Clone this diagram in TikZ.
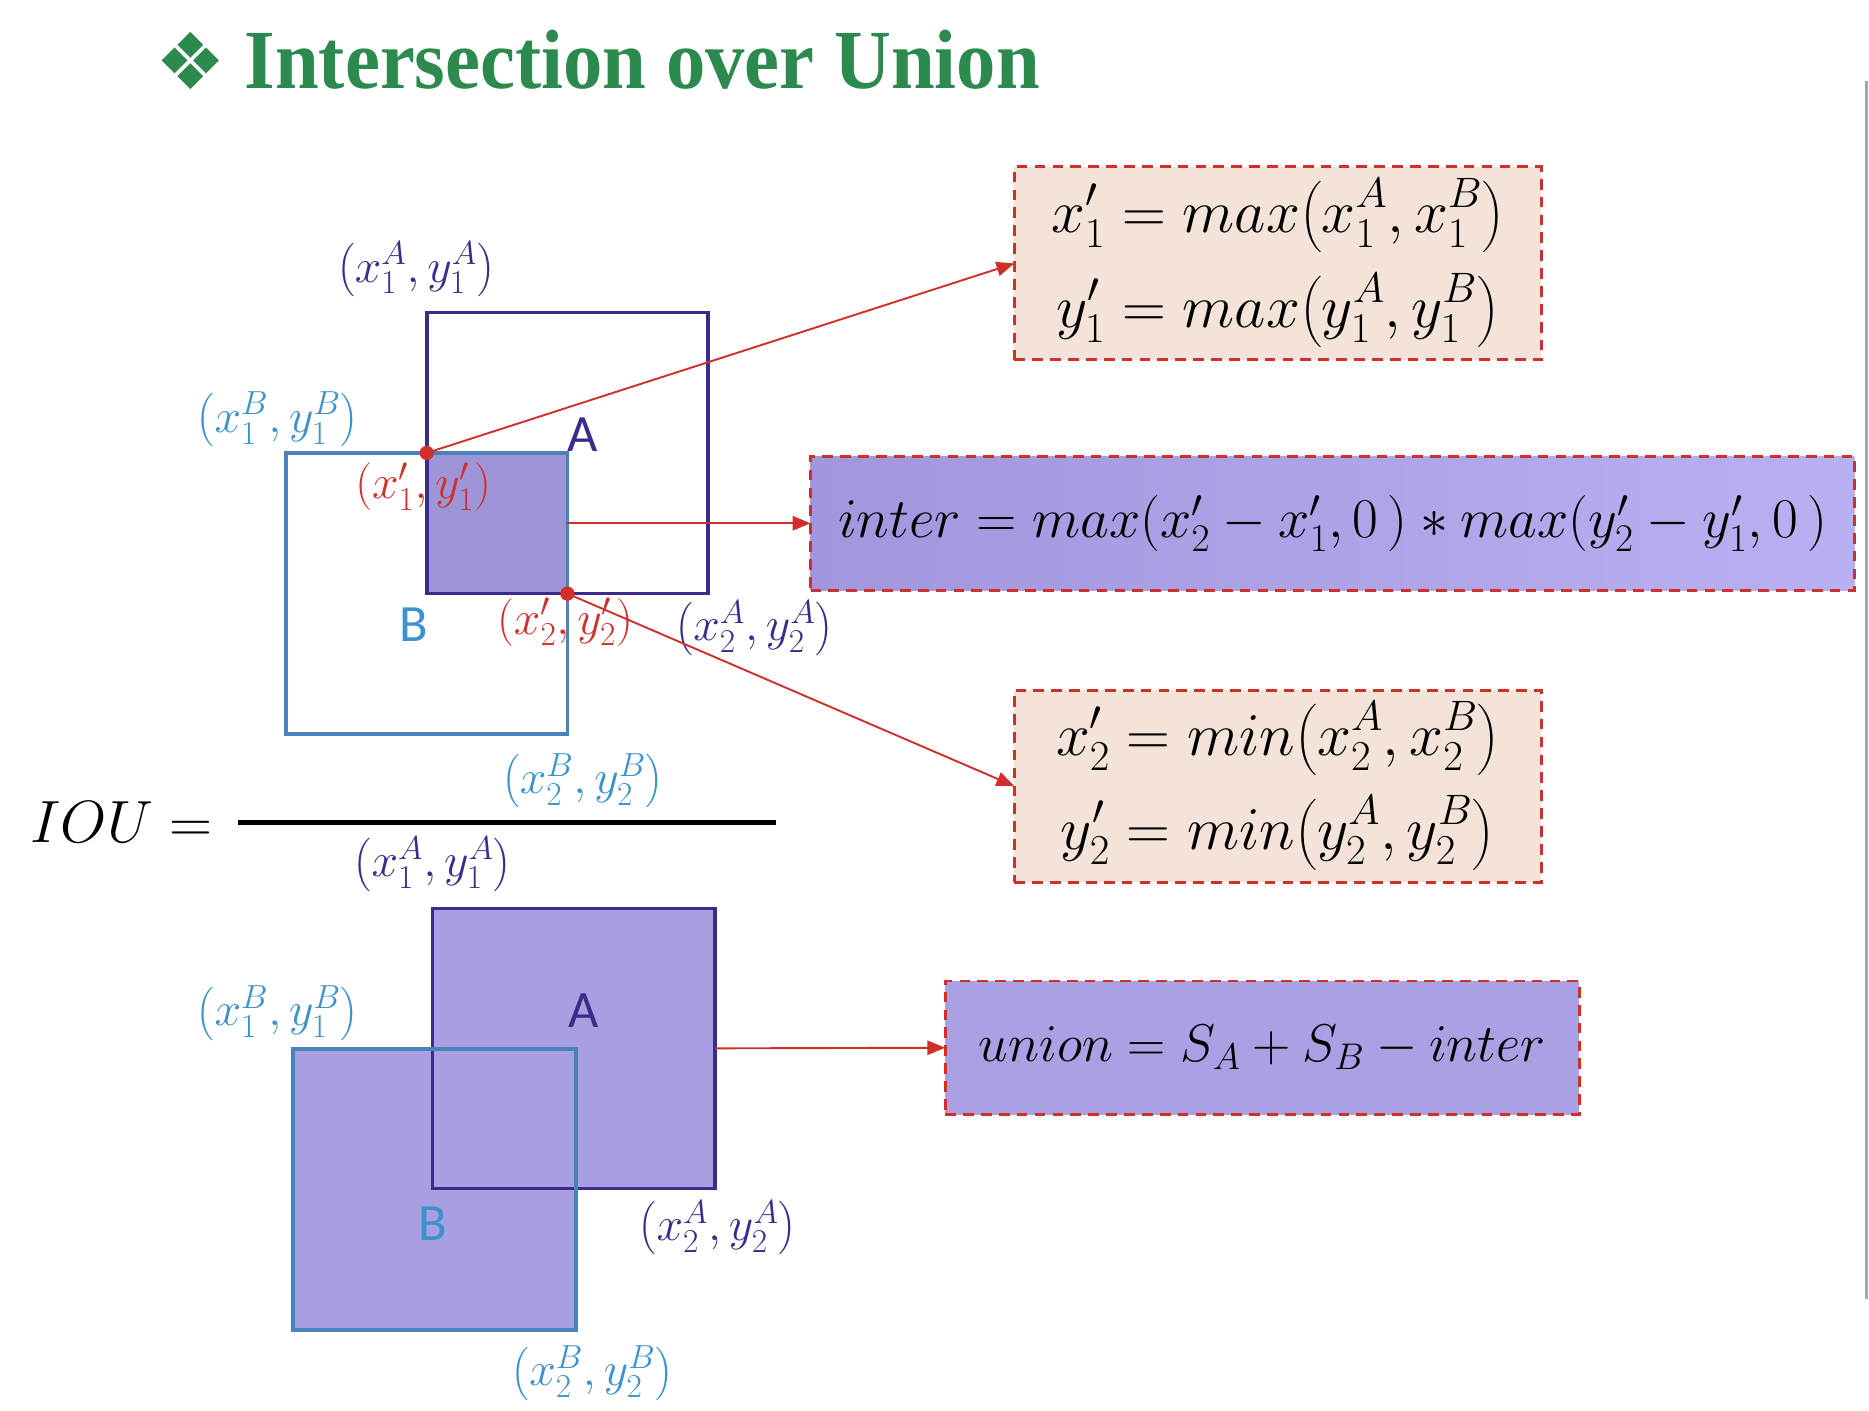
\RequirePackage{fix-cm}
\documentclass[tikz,border=0pt]{standalone}
\usepackage{amsmath}
\usepackage{fontspec}
\usetikzlibrary{arrows.meta}
\newfontfamily\titlefont{Liberation Serif}
\newfontfamily\djv{DejaVu Sans}
\newfontfamily\lblsans{Carlito}
\definecolor{ttlgreen}{HTML}{2D8A4E}
\definecolor{apurple}{HTML}{3D2B8C}
\definecolor{bblue}{HTML}{3C92CC}
\definecolor{bline}{HTML}{4A82BC}
\definecolor{redc}{HTML}{D0302A}
\definecolor{lav}{HTML}{A89EE2}
\definecolor{lavdark}{HTML}{9E95D8}
\definecolor{lavl}{HTML}{A296DD}
\definecolor{lavr}{HTML}{B8B1F1}
\definecolor{beige}{HTML}{F4E3D9}
\tikzset{
  rectnode/.style={rectangle,inner sep=0pt,outer sep=0pt,line width=3pt},
  fbox/.style={rectangle,inner sep=0pt,outer sep=0pt,draw=redc,line width=2.5pt,dash pattern=on 9pt off 6pt},
  lbl/.style={inner sep=0pt,font=\fontsize{40}{46}\selectfont},
  bigl/.style={inner sep=0pt,font=\lblsans\fontsize{44}{50}\selectfont},
  formula/.style={font=\fontsize{51}{60}\selectfont},
  redarrow/.style={draw=redc,line width=1.6pt,-{Triangle[length=15pt,width=12pt]}},
  dot/.style={circle,fill=redc,inner sep=0pt,minimum size=12pt}
}
\begin{document}
\begin{tikzpicture}[x=1pt,y=-1pt]
\useasboundingbox (0,0) rectangle (1568,1183);
\fill[white] (0,0) rectangle (1568,1183);
% slide edge
\draw[gray!70,line width=2pt] (1566,68) -- (1566,1090);

% title
\node[text=ttlgreen,inner sep=0pt,font=\djv\fontsize{66}{72}\selectfont] (sym) at (160,51) {❖};
\node[text=ttlgreen,inner sep=0pt,anchor=base west,font=\titlefont\bfseries\fontsize{66}{72}\selectfont,yscale=1.07] (title) at (205,74) {Intersection over Union};

% ---------- top diagram ----------
\node[rectnode,fill=lavdark,minimum width=118pt,minimum height=118pt] (I) at (417,439) {};
\node[rectnode,draw=bline,minimum width=236pt,minimum height=236pt] (B1) at (358,498) {};
\node[rectnode,draw=apurple,minimum width=236pt,minimum height=236pt] (A1) at (476,380) {};
\node[dot] (d1) at (358,380) {};
\node[dot] (d2) at (476,498) {};

\node[lbl,text=apurple] (a1tl) at (349,226) {$\left(x_1^A,y_1^A\right)$};
\node[lbl,text=bblue] (b1tl) at (233,352) {$\left(x_1^B,y_1^B\right)$};
\node[bigl,text=apurple] (A1lab) at (489,365) {A};
\node[lbl,text=redc] (p1) at (355,408) {$\left(x'_1,y'_1\right)$};
\node[bigl,text=bblue] (B1lab) at (347,524) {B};
\node[lbl,text=redc] (p2) at (474,522) {$\left(x'_2,y'_2\right)$};
\node[lbl,text=apurple] (a1br) at (633,527) {$\left(x_2^A,y_2^A\right)$};
\node[lbl,text=bblue] (b1br) at (489,655) {$\left(x_2^B,y_2^B\right)$};

% formula boxes
\node[fbox,fill=beige,minimum width=442pt,minimum height=162pt,formula] (box1) at (1072,221)
  {$\begin{aligned}x'_1 &= max\bigl(x_1^A,x_1^B\bigr)\\[12pt] y'_1 &= max\bigl(y_1^A,y_1^B\bigr)\end{aligned}$};
\node[fbox,left color=lavl,right color=lavr,minimum width=876pt,minimum height=112pt,font=\fontsize{47}{56}\selectfont] (interbox) at (1118,439)
  {$inter = max(x'_2-x'_1,0\,)*max(y'_2-y'_1,0\,)$};
\node[fbox,fill=beige,minimum width=442pt,minimum height=161pt,formula] (box3) at (1072,659.5)
  {$\begin{aligned}x'_2 &= min\bigl(x_2^A,x_2^B\bigr)\\[12pt] y'_2 &= min\bigl(y_2^A,y_2^B\bigr)\end{aligned}$};

\draw[redarrow] (d1.center) -- (box1.west);
\draw[redarrow] (I.east) -- (interbox.west);
\draw[redarrow] (d2.center) -- (box3.west);

% IOU
\node[inner sep=0pt,font=\fontsize{50}{60}\selectfont] (iou) at (102,690) {$IOU=$};
\coordinate (fl) at (200,690);
\coordinate (fr) at (651,690);
\draw[line width=4pt] (fl) -- (fr);

% ---------- bottom diagram ----------
\fill[lav] (363,762) rectangle (600,997);
\fill[lav] (246,880) rectangle (483,1116);
\node[rectnode,draw=apurple,minimum width=237pt,minimum height=235pt] (A2) at (481.5,879.5) {};
\node[rectnode,draw=bline,minimum width=237pt,minimum height=236pt] (B2) at (364.5,998) {};

\node[lbl,text=apurple] (a2tl) at (363,725) {$\left(x_1^A,y_1^A\right)$};
\node[lbl,text=bblue] (b2tl) at (233,850) {$\left(x_1^B,y_1^B\right)$};
\node[bigl,text=apurple] (A2lab) at (490,848) {A};
\node[bigl,text=bblue] (B2lab) at (363,1027) {B};
\node[lbl,text=apurple] (a2br) at (602,1030) {$\left(x_2^A,y_2^A\right)$};
\node[lbl,text=bblue] (b2br) at (497,1152) {$\left(x_2^B,y_2^B\right)$};

\node[fbox,fill=lav!90!lavr,minimum width=532pt,minimum height=112pt,font=\fontsize{44.5}{52}\selectfont] (unionbox) at (1059,879)
  {$union = S_A+S_B-inter$};
\draw[redarrow] (A2.east) -- (unionbox.west);
\end{tikzpicture}
\end{document}
